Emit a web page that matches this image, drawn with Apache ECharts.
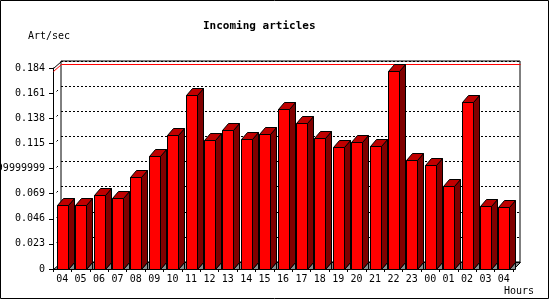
<!DOCTYPE html>
<html><head><meta charset="utf-8">
<script src="https://cdn.jsdelivr.net/npm/echarts@6/dist/echarts.min.js"></script>
<style>html,body{margin:0;padding:0;background:#fff}#c{width:550px;height:300px}</style>
</head><body><div id="c"></div>
<script>
const hours = ['04','05','06','07','08','09','10','11','12','13','14','15','16','17','18','19','20','21','22','23','00','01','02','03','04'];
const articlesPerSec = [0.059,0.059,0.068,0.065,0.084,0.103,0.123,0.159,0.118,0.1275,0.119,0.124,0.1465,0.134,0.120,0.112,0.1165,0.113,0.181,0.100,0.095,0.076,0.153,0.058,0.057];
const yTickLabels = ['0','0.023','0.046','0.069','0.09199999999','0.115','0.138','0.161','0.184'];
const yMax = 0.184;
const yStep = 0.023;
const titleText = 'Incoming articles';
const yName = 'Art/sec';
const xName = 'Hours';

const FONT = 'DejaVu Sans Mono';
const chart = echarts.init(document.getElementById('c'), null, {renderer: 'canvas'});
const maxVal = Math.max.apply(null, articlesPerSec);

function renderItem(params, api) {
  const i = api.value(0), v = api.value(1);
  const top = api.coord([i, v]), base = api.coord([i, 0]);
  const band = api.size([1, 0])[0];
  const w = 11, dx = 6, dy = 7, wx = 8, wy = 7;
  const s = n => Math.round(n) + 0.5;
  const xl = s(top[0] - w / 2), xr = xl + w, yt = s(top[1]), yb = s(base[1]);
  const st = {stroke: '#000', lineWidth: 1};
  const children = [];
  if (params.dataIndex === 0) {
    const fx = s(base[0] - band / 2);
    const rx = s(api.coord([hours.length - 1, 0])[0] + band / 2);
    children.push({type: 'polygon', shape: {points: [[fx, yb], [fx + wx, yb - wy], [rx + 7, yb - wy], [rx, yb]]},
      style: {fill: '#8c8c8c', stroke: '#000', lineWidth: 1}});
    const ty = s(api.coord([0, yMax])[1]);
    children.push({type: 'line', shape: {x1: fx, y1: ty, x2: fx + wx, y2: ty - wy}, style: st});
    for (let k = 1; k < yTickLabels.length - 1; k++) {
      const y = s(api.coord([0, k * yStep])[1]);
      children.push({type: 'line', shape: {x1: fx + 3, y1: y - 2, x2: fx + 4.5, y2: y - 3.5}, style: st});
    }
    const my = s(api.coord([0, maxVal])[1]);
    children.push({type: 'polyline', shape: {points: [[fx, my], [fx + wx, my - wy], [rx + 7, my - wy]]},
      style: {stroke: '#ff0000', fill: null, lineWidth: 1}});
  }
  children.push({type: 'polygon', shape: {points: [[xr, yb], [xr + dx, yb - dy], [xr + dx, yb]]},
    style: {fill: '#8c8c8c', stroke: '#000', lineWidth: 1}});
  children.push({type: 'polygon', shape: {points: [[xr, yt], [xr + dx, yt - dy], [xr + dx, yb - dy], [xr, yb]]},
    style: {fill: '#800000', stroke: '#000', lineWidth: 1}});
  children.push({type: 'polygon', shape: {points: [[xl, yt], [xl + dx, yt - dy], [xr + dx, yt - dy], [xr, yt]]},
    style: {fill: '#c00000', stroke: '#000', lineWidth: 1}});
  children.push({type: 'rect', shape: {x: xl, y: yt, width: w, height: yb - yt},
    style: {fill: '#ff0000', stroke: '#000', lineWidth: 1}});
  return {type: 'group', children: children};
}

const option = {
  animation: false,
  backgroundColor: '#fff',
  grid: [
    {left: 53, right: 37, top: 68, bottom: 31, outerBoundsMode: 'none', containLabel: false},
    {left: 61, right: 30, top: 61, bottom: 38, outerBoundsMode: 'none', containLabel: false,
      show: true, borderColor: '#000', borderWidth: 1, backgroundColor: '#fff'}
  ],
  xAxis: [
    {type: 'category', gridIndex: 0, data: hours, boundaryGap: true,
      axisLine: {show: true, lineStyle: {color: '#000', width: 1}},
      axisTick: {show: true, length: 3, lineStyle: {color: '#000'}},
      axisLabel: {interval: 0, fontFamily: FONT, fontSize: 10, color: '#000', margin: 5},
      splitLine: {show: false}},
    {type: 'category', gridIndex: 1, data: hours, boundaryGap: true, show: false}
  ],
  yAxis: [
    {type: 'value', gridIndex: 0, min: 0, max: yMax, interval: yStep,
      axisLine: {show: true, lineStyle: {color: '#000', width: 1}},
      axisTick: {show: true, length: 4, lineStyle: {color: '#000'}},
      axisLabel: {fontFamily: FONT, fontSize: 10, color: '#000', margin: 8,
        formatter: (val) => yTickLabels[Math.round(val / yStep)]},
      splitLine: {show: false}},
    {type: 'value', gridIndex: 1, min: 0, max: yMax, interval: yStep,
      axisLine: {show: false}, axisTick: {show: false}, axisLabel: {show: false},
      splitLine: {show: true, lineStyle: {color: '#000', width: 1, type: [2, 2]}}}
  ],
  series: [
    {type: 'custom', xAxisIndex: 0, yAxisIndex: 0, z: 3, renderItem: renderItem,
      data: articlesPerSec.map((v, i) => [i, v]), encode: {x: 0, y: 1}, clip: false}
  ],
  graphic: [
    {type: 'rect', shape: {x: 0.5, y: 0.5, width: 548, height: 298}, style: {fill: null, stroke: '#000', lineWidth: 1}, z: 100},
    {type: 'text', left: 203, top: 21, style: {text: titleText, font: 'bold 11px "DejaVu Sans Mono"', fill: '#000'}},
    {type: 'text', left: 28, top: 31, style: {text: yName, font: '10px "DejaVu Sans Mono"', fill: '#000'}},
    {type: 'text', left: 504, top: 286, style: {text: xName, font: '10px "DejaVu Sans Mono"', fill: '#000'}}
  ]
};
chart.setOption(option);
</script>
</body></html>
